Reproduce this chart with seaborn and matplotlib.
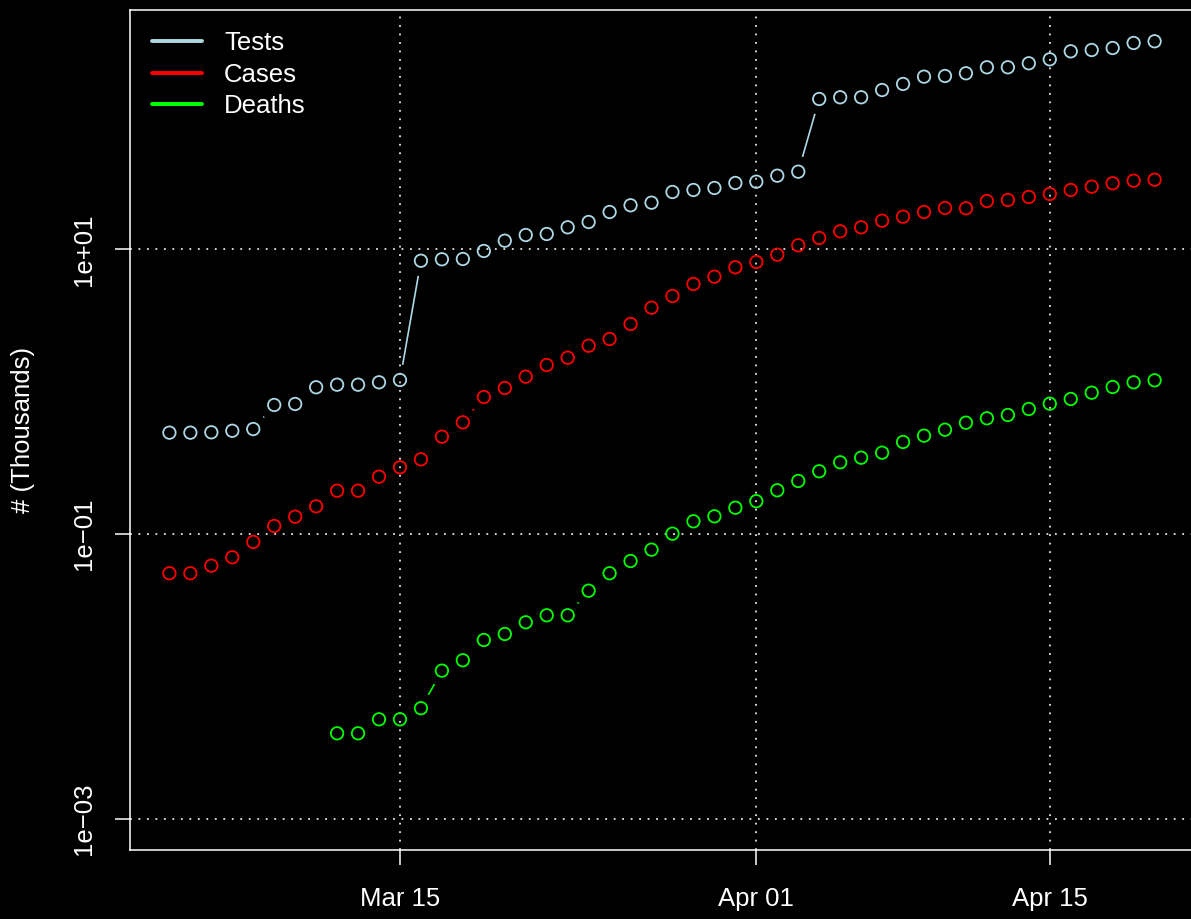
"""Tests, cases and deaths over time on a log scale (R base-graphics look)."""

import numpy as np
import pandas as pd
import matplotlib
matplotlib.use("Agg")
import matplotlib.pyplot as plt
import matplotlib.dates as mdates
from matplotlib.ticker import FixedLocator, FixedFormatter, NullLocator
from matplotlib.lines import Line2D
import seaborn as sns

# Daily values, in thousands
dates = pd.date_range("2020-03-04", "2020-04-20", freq="D")

tests = [0.515, 0.515, 0.518, 0.531, 0.546, 0.806, 0.819, 1.073, 1.119, 1.119,
         1.163, 1.207, 8.31, 8.51, 8.55, 9.73, 11.49, 12.60, 12.81, 14.27,
         15.55, 18.28, 20.38, 21.25, 25.27, 26.10, 26.96, 29.23, 29.85, 32.89,
         35.09, 113.7, 116.9, 116.9, 131.5, 145.0, 163.2, 165.0, 172.4, 189.9,
         189.9, 202.6, 216.1, 245.9, 251.2, 259.5, 281.4, 289.2]

cases = [0.0530, 0.0530, 0.0599, 0.0686, 0.0879, 0.1138, 0.1323, 0.1565, 0.2014, 0.2014,
         0.2527, 0.2942, 0.3347, 0.4827, 0.609, 0.917, 1.061, 1.274, 1.539, 1.732,
         2.102, 2.343, 2.988, 3.889, 4.697, 5.704, 6.421, 7.473, 8.143, 9.165,
         10.67, 12.01, 13.38, 14.27, 15.88, 16.94, 18.28, 19.51, 19.41, 21.84,
         22.20, 23.31, 24.46, 26.10, 27.53, 29.09, 30.34, 30.83]

death_dates = pd.date_range("2020-03-12", "2020-04-20", freq="D")
deaths = [0.00398, 0.00398, 0.00499, 0.00499, 0.00597, 0.01096, 0.01297, 0.0180, 0.01984, 0.02397,
          0.02685, 0.02685, 0.03997, 0.0530, 0.0646, 0.0776, 0.1005, 0.1228, 0.1331, 0.1530,
          0.1700, 0.2028, 0.2357, 0.2758, 0.3189, 0.3436, 0.3725, 0.4429, 0.4905, 0.5403,
          0.6050, 0.6499, 0.6855, 0.7551, 0.8229, 0.8880, 0.9831, 1.078, 1.163, 1.201]

series_names = ["Tests", "Cases", "Deaths"]
series_colors = ["#add8e6", "#ff0000", "#00ff00"]

x_ticks = pd.to_datetime(["2020-03-15", "2020-04-01", "2020-04-15"])
y_ticks = [1e-3, 1e-1, 1e1]
y_tick_labels = ["1e\u221203", "1e\u221201", "1e+01"]

df = pd.concat([
    pd.DataFrame({"date": dates, "value": tests, "series": "Tests"}),
    pd.DataFrame({"date": dates, "value": cases, "series": "Cases"}),
    pd.DataFrame({"date": death_dates, "value": deaths, "series": "Deaths"}),
], ignore_index=True)

sns.set_style("ticks", rc={
    "axes.facecolor": "black",
    "figure.facecolor": "black",
    "axes.edgecolor": "white",
    "text.color": "white",
    "axes.labelcolor": "white",
    "xtick.color": "white",
    "ytick.color": "white",
})
plt.rcParams["font.family"] = ["Liberation Sans", "DejaVu Sans"]

W, H = 1191, 919
fig = plt.figure(figsize=(W / 100, H / 100), dpi=100)
ax = fig.add_axes([130 / W, 69 / H, 1064 / W, 840 / H])
ax.set_yscale("log")

palette = dict(zip(series_names, series_colors))
sns.scatterplot(data=df, x="date", y="value", hue="series", palette=palette,
                marker="o", s=80, linewidth=1.3, legend=False, ax=ax, zorder=3)
# open circles like R's pch = 1
for coll in ax.collections:
    fc = coll.get_facecolors()
    coll.set_edgecolors(fc)
    coll.set_facecolors("none")

# axis limits (R adds 4% on each side)
x15 = mdates.date2num(pd.Timestamp("2020-03-15"))
ax.set_xlim(x15 - 12.88, x15 + 37.88)
ax.set_ylim(10 ** -3.220, 10 ** 2.681)

# type = "b": line pieces between points, leaving a gap round each point
gap = 15.4
for name, color in zip(series_names, series_colors):
    sub = df[df["series"] == name]
    xy = np.column_stack([mdates.date2num(sub["date"]), sub["value"].to_numpy()])
    pix = ax.transData.transform(xy)
    inv = ax.transData.inverted()
    for p0, p1 in zip(pix[:-1], pix[1:]):
        d = p1 - p0
        dist = np.hypot(*d)
        if dist <= 2 * gap:
            continue
        a = inv.transform(p0 + d / dist * gap)
        b = inv.transform(p1 - d / dist * gap)
        ax.plot([a[0], b[0]], [a[1], b[1]], color=color, lw=1.2,
                solid_capstyle="butt", zorder=2)

ax.xaxis.set_major_locator(FixedLocator(mdates.date2num(x_ticks)))
ax.xaxis.set_major_formatter(mdates.DateFormatter("%b %d"))
ax.xaxis.set_minor_locator(NullLocator())
ax.yaxis.set_major_locator(FixedLocator(y_ticks))
ax.yaxis.set_major_formatter(FixedFormatter(y_tick_labels))
ax.yaxis.set_minor_locator(NullLocator())

ax.tick_params(axis="both", direction="out", length=10.8, width=1.1,
               colors="white", labelsize=18.5, bottom=True, left=True)
ax.tick_params(axis="x", pad=16)
ax.tick_params(axis="y", pad=14, labelrotation=90)
for lbl in ax.get_yticklabels():
    lbl.set_va("center")

for sp in ax.spines.values():
    sp.set_visible(True)
    sp.set_color("white")
    sp.set_linewidth(1.1)

ax.grid(True, which="major", color="#e6e6e6", linestyle=(0, (1, 3.7)), linewidth=1.3)
ax.set_axisbelow(True)

ax.set_xlabel("")
ax.set_ylabel("# (Thousands)", fontsize=18.5, color="white")
ax.yaxis.set_label_coords(-0.089, 0.5)

handles = [Line2D([], [], color=c, lw=2.8) for c in series_colors]
ax.legend(handles, series_names, loc="upper left", bbox_to_anchor=(0.0207, 0.975),
          frameon=False, borderpad=0, borderaxespad=0, handlelength=1.95,
          handletextpad=0.86, labelspacing=0.3, fontsize=18.5, labelcolor="white")

fig.savefig("out.png", dpi=100, facecolor="black")
plt.close(fig)
